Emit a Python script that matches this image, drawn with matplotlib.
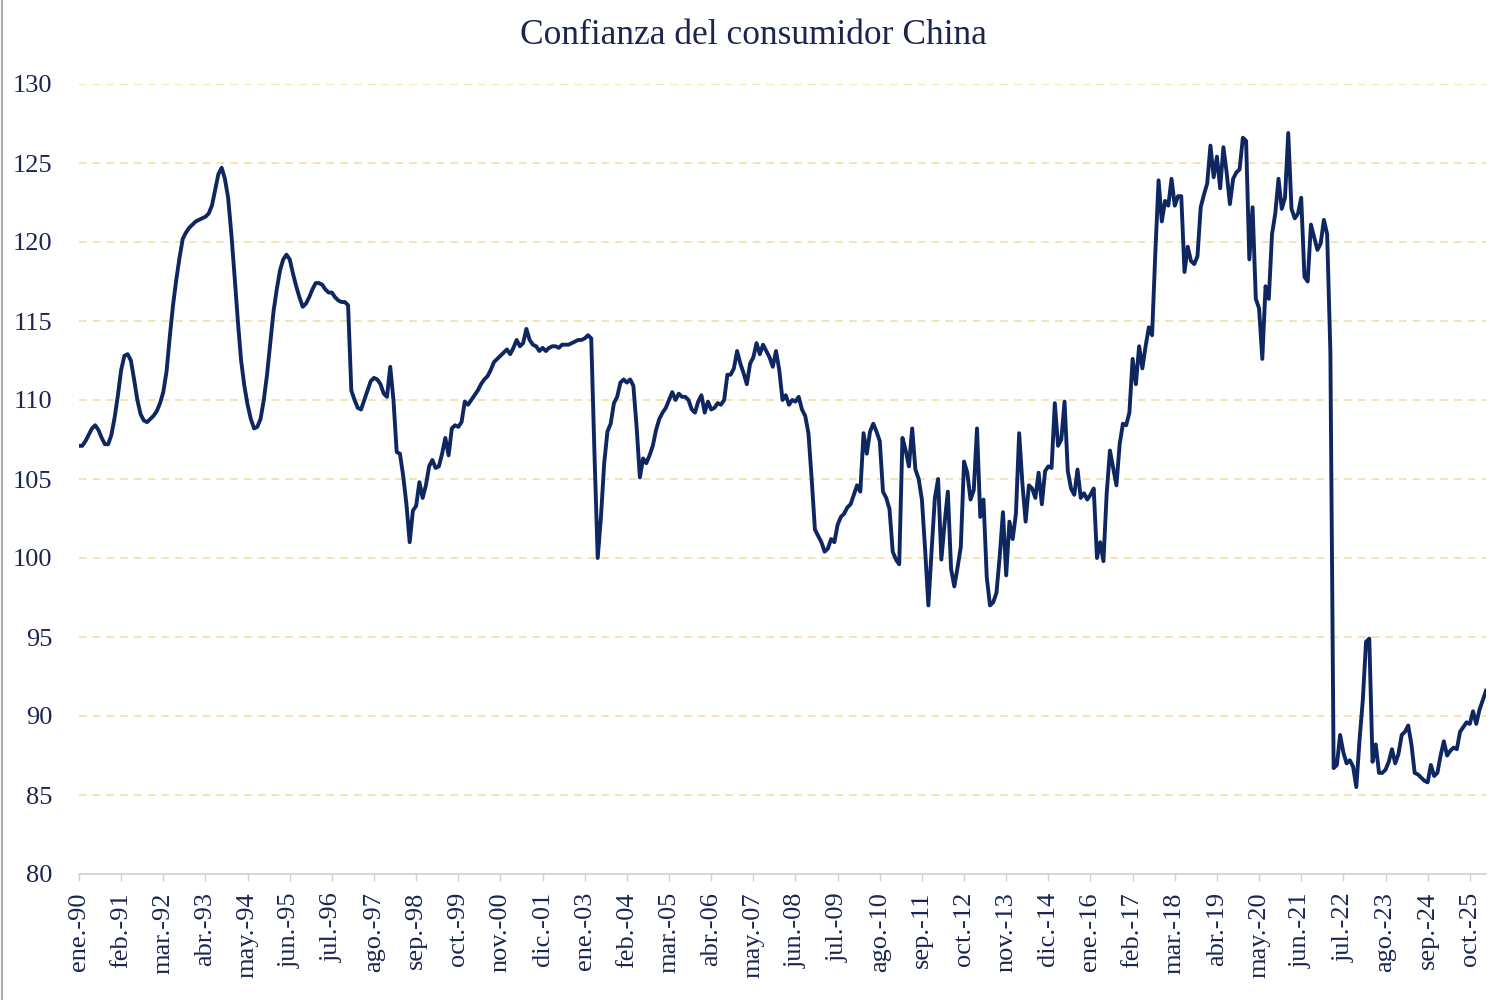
"""
plot.py
-------
Confianza del consumidor China, serie mensual desde ene-90.
"""

import matplotlib
matplotlib.use("Agg")
import matplotlib.pyplot as plt
from matplotlib.lines import Line2D

# ── Data ──────────────────────────────────────────────────────────────────────
TITLE = "Confianza del consumidor China"

confidence = [
    107.1, 107.1, 107.4, 107.8, 108.2, 108.4, 108.1, 107.6, 107.2, 107.2,
    107.8, 108.9, 110.3, 111.9, 112.8, 112.9, 112.5, 111.3, 110.0, 109.1,
    108.7, 108.6, 108.8, 109.0, 109.3, 109.8, 110.5, 111.8, 114.0, 116.0,
    117.6, 119.0, 120.2, 120.6, 120.9, 121.1, 121.3, 121.4, 121.5, 121.6,
    121.8, 122.3, 123.3, 124.3, 124.7, 124.0, 122.8, 120.5, 117.8, 115.0,
    112.5, 110.9, 109.7, 108.8, 108.2, 108.3, 108.8, 110.0, 111.6, 113.6,
    115.6, 117.0, 118.2, 118.9, 119.2, 118.9, 118.0, 117.2, 116.5, 115.9,
    116.1, 116.5, 117.0, 117.4, 117.4, 117.3, 117.0, 116.8, 116.8, 116.5,
    116.3, 116.2, 116.2, 116.0, 110.6, 110.0, 109.5, 109.4, 110.0, 110.6,
    111.2, 111.4, 111.3, 111.0, 110.4, 110.2, 112.1, 110.0, 106.7, 106.6,
    105.2, 103.4, 101.0, 103.0, 103.3, 104.8, 103.8, 104.6, 105.8, 106.2,
    105.7, 105.8, 106.6, 107.6, 106.5, 108.2, 108.4, 108.3, 108.6, 109.9,
    109.7, 110.0, 110.3, 110.6, 111.0, 111.3, 111.5, 111.9, 112.4, 112.6,
    112.8, 113.0, 113.2, 112.9, 113.3, 113.8, 113.4, 113.6, 114.5, 113.8,
    113.5, 113.4, 113.1, 113.3, 113.1, 113.3, 113.4, 113.4, 113.3, 113.5,
    113.5, 113.5, 113.6, 113.7, 113.8, 113.8, 113.9, 114.1, 113.9, 106.6,
    100.0, 102.6, 106.0, 108.0, 108.5, 109.8, 110.2, 111.1, 111.3, 111.1,
    111.3, 110.9, 108.3, 105.1, 106.3, 106.0, 106.5, 107.1, 108.1, 108.8,
    109.2, 109.5, 110.0, 110.5, 110.0, 110.4, 110.2, 110.2, 110.0, 109.4,
    109.2, 109.9, 110.3, 109.2, 109.9, 109.4, 109.5, 109.8, 109.7, 110.0,
    111.6, 111.6, 112.0, 113.1, 112.3, 111.7, 111.0, 112.3, 112.7, 113.6,
    112.9, 113.5, 113.1, 112.7, 112.1, 113.1, 111.9, 110.0, 110.3, 109.7,
    110.0, 109.9, 110.2, 109.4, 109.0, 107.9, 105.0, 101.8, 101.4, 101.0,
    100.4, 100.6, 101.2, 101.0, 102.1, 102.6, 102.8, 103.2, 103.4, 104.0,
    104.6, 104.2, 107.9, 106.6, 108.0, 108.5, 108.0, 107.4, 104.2, 103.8,
    103.1, 100.4, 99.9, 99.6, 107.6, 106.8, 105.8, 108.2, 105.6, 105.0,
    103.7, 100.5, 97.0, 100.5, 103.8, 105.0, 99.9, 102.2, 104.2, 99.3,
    98.2, 99.4, 100.7, 106.1, 105.4, 103.7, 104.3, 108.2, 102.6, 103.7,
    98.8, 97.0, 97.2, 97.8, 100.1, 102.9, 98.9, 102.3, 101.2, 102.8,
    107.9, 104.7, 102.3, 104.6, 104.4, 103.8, 105.4, 103.4, 105.5, 105.8,
    105.7, 109.8, 107.1, 107.5, 109.9, 105.5, 104.4, 104.0, 105.6, 103.8,
    104.1, 103.7, 104.0, 104.4, 100.0, 101.0, 99.8, 104.1, 106.8, 105.7,
    104.6, 107.2, 108.5, 108.4, 109.2, 112.6, 111.0, 113.4, 112.0, 113.4,
    114.6, 114.1, 119.3, 123.9, 121.3, 122.6, 122.3, 124.0, 122.3, 122.9,
    122.9, 118.1, 119.7, 118.8, 118.6, 119.1, 122.2, 123.0, 123.7, 126.1,
    124.1, 125.4, 123.4, 126.0, 124.4, 122.4, 124.0, 124.4, 124.6, 126.6,
    126.4, 118.9, 122.2, 116.4, 115.8, 112.6, 117.2, 116.4, 120.5, 121.8,
    124.0, 122.1, 122.8, 126.9, 122.1, 121.5, 121.8, 122.8, 117.8, 117.5,
    121.1, 120.3, 119.5, 119.9, 121.4, 120.5, 113.0, 86.7, 86.9, 88.8,
    87.7, 87.0, 87.2, 86.8, 85.5, 88.5, 91.0, 94.7, 94.9, 87.1,
    88.2, 86.4, 86.4, 86.6, 87.1, 87.9, 87.0, 87.6, 88.8, 89.0,
    89.4, 88.2, 86.4, 86.3, 86.1, 85.9, 85.8, 86.9, 86.2, 86.4,
    87.5, 88.4, 87.5, 87.8, 88.0, 87.9, 89.0, 89.3, 89.6, 89.5,
    90.3, 89.5, 90.4, 91.0, 91.6,
]

# one label every 13 months, starting at ene-90
tick_labels = [
    "ene.-90", "feb.-91", "mar.-92", "abr.-93", "may.-94", "jun.-95",
    "jul.-96", "ago.-97", "sep.-98", "oct.-99", "nov.-00", "dic.-01",
    "ene.-03", "feb.-04", "mar.-05", "abr.-06", "may.-07", "jun.-08",
    "jul.-09", "ago.-10", "sep.-11", "oct.-12", "nov.-13", "dic.-14",
    "ene.-16", "feb.-17", "mar.-18", "abr.-19", "may.-20", "jun.-21",
    "jul.-22", "ago.-23", "sep.-24", "oct.-25",
]
TICK_STEP = 13
y_ticks = [80, 85, 90, 95, 100, 105, 110, 115, 120, 125, 130]

# ── Style ─────────────────────────────────────────────────────────────────────
LINE_COLOR = "#0e2761"
TEXT_COLOR = "#1b2550"
GRID_COLOR = "#f3dc9c"
AXIS_COLOR = "#cfcfcf"
FONT = ["Liberation Serif", "DejaVu Serif"]


# ─────────────────────────────────────────────────────────────────────────────
def plot_confidence(path="out.png"):
    plt.rcParams["font.family"] = FONT

    fig = plt.figure(figsize=(15.08, 10), dpi=100)
    ax = fig.add_axes([79 / 1508, 0.126, (1486 - 79) / 1508, 0.79])

    x = list(range(len(confidence)))
    ax.plot(x, confidence, color=LINE_COLOR, lw=2.8, solid_joinstyle="round")

    ax.set_xlim(0, len(confidence) - 1)
    ax.set_ylim(80, 130)

    ax.set_yticks(y_ticks)
    ax.set_yticklabels([str(v) for v in y_ticks])
    ax.set_xticks(list(range(0, len(tick_labels) * TICK_STEP, TICK_STEP)))
    ax.set_xticklabels(tick_labels, rotation=90, va="top", ha="center")

    # dashed gridlines (no line at 80: that is the axis)
    for v in y_ticks[1:]:
        ax.axhline(v, color=GRID_COLOR, lw=1.1, ls=(0, (5, 4)), zorder=0)

    for side in ["top", "right", "left"]:
        ax.spines[side].set_visible(False)
    ax.spines["bottom"].set_color(AXIS_COLOR)
    ax.spines["bottom"].set_linewidth(1.2)

    ax.tick_params(axis="y", length=0, pad=19, labelsize=19, labelcolor=TEXT_COLOR)
    ax.tick_params(axis="x", length=5, width=1, color=AXIS_COLOR, pad=8,
                   labelsize=19, labelcolor=TEXT_COLOR)

    fig.text(0.4993, 1 - 36 / 1000, TITLE, ha="center", va="center",
             fontsize=25.5, color=TEXT_COLOR)

    # thin frame line on the left edge
    fig.add_artist(Line2D([0.001, 0.001], [0, 1], color="#9a9a9a", lw=1.2,
                          transform=fig.transFigure))

    fig.savefig(path, dpi=100)
    plt.close(fig)


# ─────────────────────────────────────────────────────────────────────────────
if __name__ == "__main__":
    plot_confidence()
